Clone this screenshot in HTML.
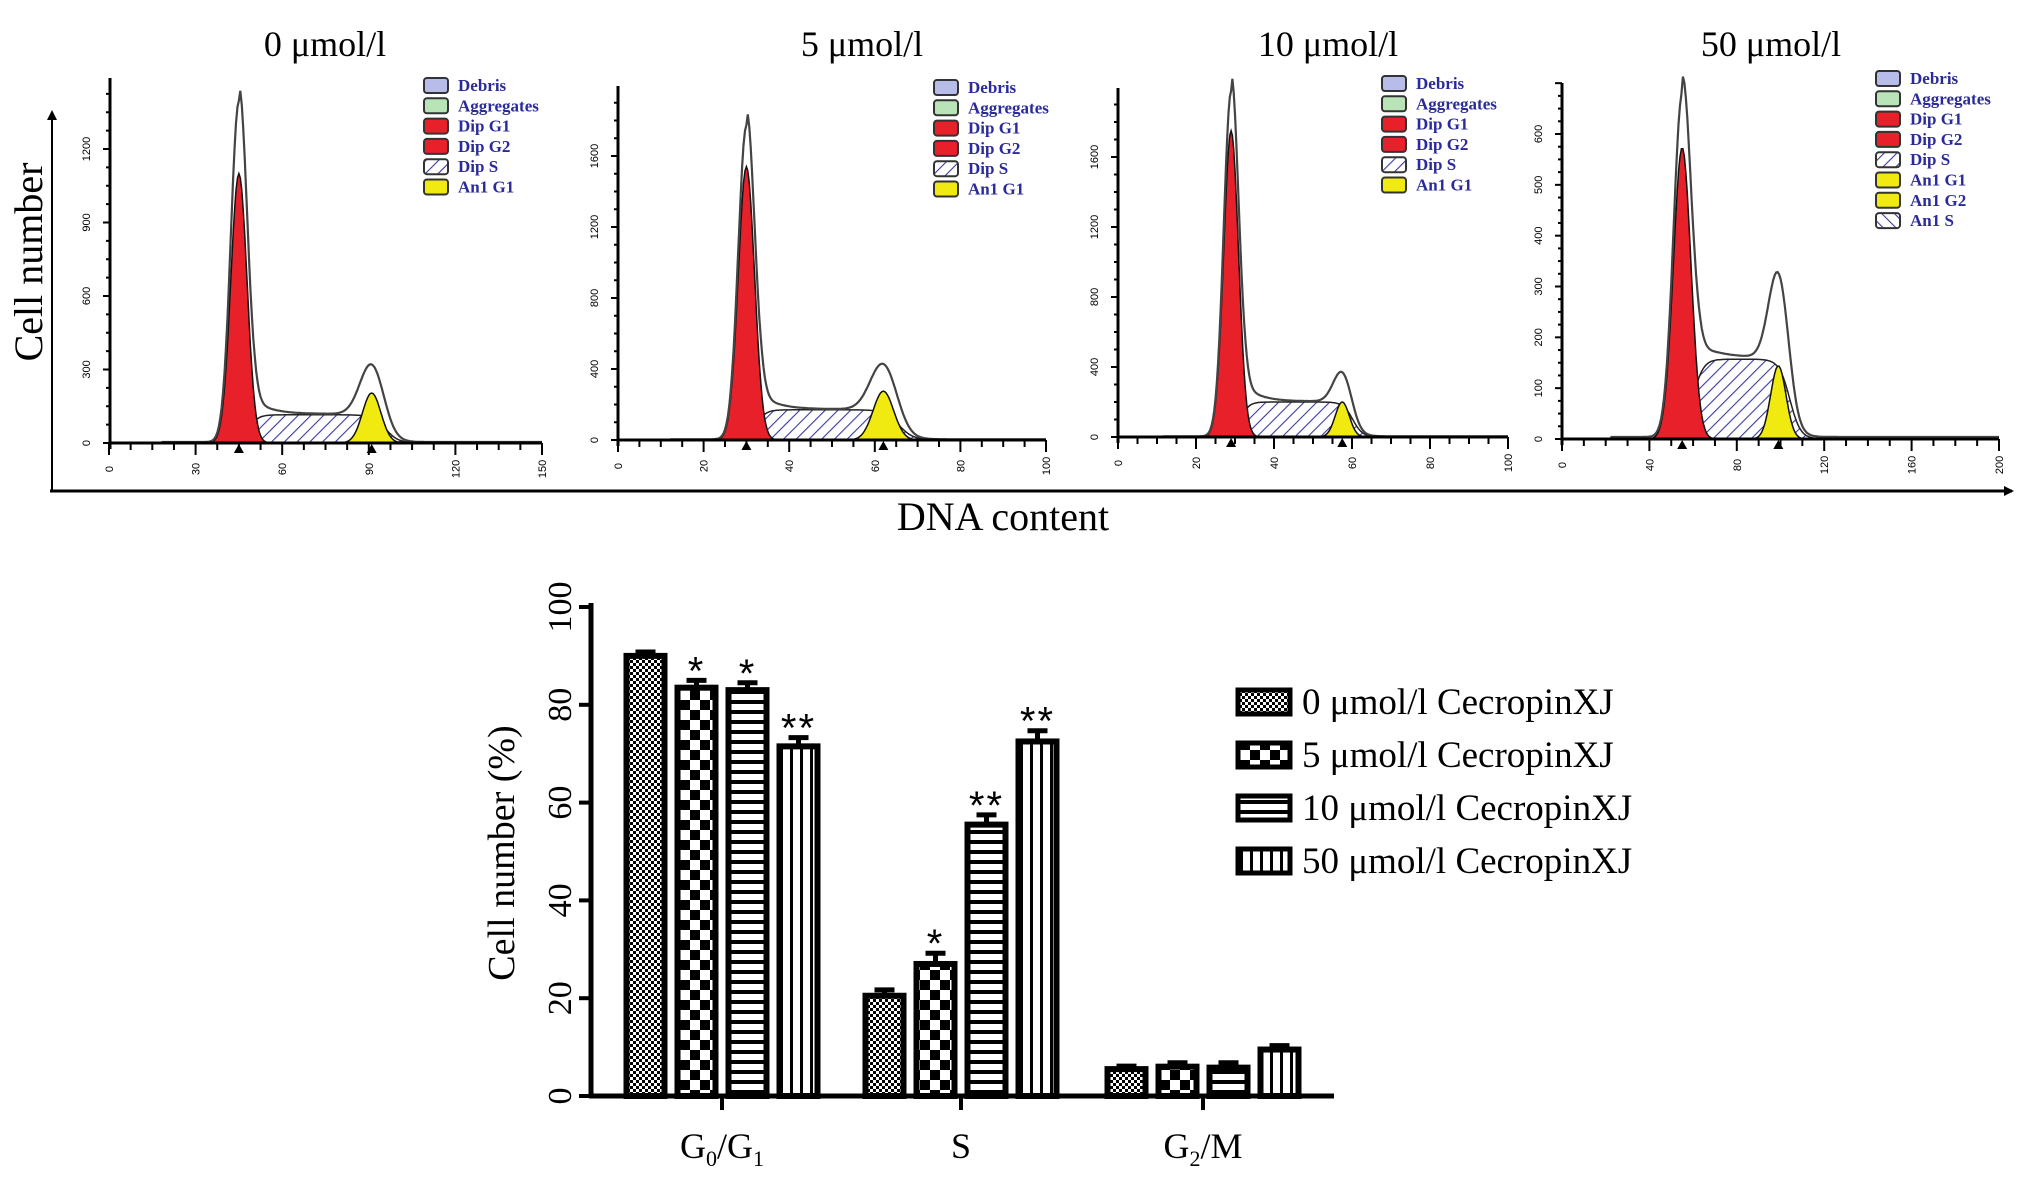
<!DOCTYPE html>
<html><head><meta charset="utf-8"><style>
html,body{margin:0;padding:0;background:#fff;}
svg{display:block;font-family:"Liberation Serif",serif;}
</style></head><body>
<svg id="fig" width="2031" height="1178" viewBox="0 0 2031 1178" xmlns="http://www.w3.org/2000/svg">
<defs>
<pattern id="hatchS" width="9" height="9" patternUnits="userSpaceOnUse" patternTransform="rotate(45)"><rect width="9" height="9" fill="#fff"/><line x1="0" y1="0" x2="0" y2="9" stroke="#3a3aa0" stroke-width="2.2"/></pattern>
<pattern id="hatchS2" width="9" height="9" patternUnits="userSpaceOnUse" patternTransform="rotate(-45)"><rect width="9" height="9" fill="#fff"/><line x1="0" y1="0" x2="0" y2="9" stroke="#3a3aa0" stroke-width="2.2"/></pattern>
<pattern id="p0" width="6" height="6" patternUnits="userSpaceOnUse"><rect width="6" height="6" fill="#fff"/><rect width="3" height="3" fill="#000"/><rect x="3" y="3" width="3" height="3" fill="#000"/></pattern>
<pattern id="p5" width="20" height="20" patternUnits="userSpaceOnUse"><rect width="20" height="20" fill="#fff"/><rect width="10" height="10" fill="#000"/><rect x="10" y="10" width="10" height="10" fill="#000"/></pattern>
<pattern id="p10" width="10" height="10" patternUnits="userSpaceOnUse"><rect width="10" height="10" fill="#fff"/><rect y="0" width="10" height="4" fill="#000"/></pattern>
<pattern id="p50" width="10" height="10" patternUnits="userSpaceOnUse"><rect width="10" height="10" fill="#fff"/><rect x="0" width="3" height="10" fill="#000"/></pattern>
<marker id="arr" markerWidth="10" markerHeight="10" refX="8" refY="5" orient="auto" markerUnits="userSpaceOnUse"><path d="M0,0 L10,5 L0,10 z" fill="#000"/></marker>
</defs>
<g id="top"></g>
<g id="bars"></g>
</svg>
<script>
// ---------- Histogram panel data ----------
const panelTitles = ["0 μmol/l", "5 μmol/l", "10 μmol/l", "50 μmol/l"];
const panelXMax = [150, 100, 100, 200];
const panelXStep = [30, 20, 20, 40];
const panelYStep = [300, 400, 400, 100];
const panelYTickMax = [1200, 1600, 1600, 600];
const g1Mean = [45, 30, 29, 55];
const g1Sd = [2.8, 1.9, 1.9, 4.0];
const g1Height = [1100, 1540, 1750, 573];
const g1Outline = [1380, 1750, 1950, 660];
const g2Mean = [91, 62, 57.5, 99];
const g2Sd = [3.2, 2.4, 1.8, 3.5];
const g2Height = [204, 275, 200, 144];
const g2Outline = [300, 400, 337, 300];
const sPlateau = [115, 170, 200, 157];
const legendSets = [
 ["Debris","Aggregates","Dip G1","Dip G2","Dip S","An1 G1"],
 ["Debris","Aggregates","Dip G1","Dip G2","Dip S","An1 G1"],
 ["Debris","Aggregates","Dip G1","Dip G2","Dip S","An1 G1"],
 ["Debris","Aggregates","Dip G1","Dip G2","Dip S","An1 G1","An1 G2","An1 S"]];

// ---------- Bar chart data ----------
const categories = ["G0/G1", "S", "G2/M"];
const seriesNames = ["0 μmol/l CecropinXJ","5 μmol/l CecropinXJ","10 μmol/l CecropinXJ","50 μmol/l CecropinXJ"];
const s0 = [90, 20.5, 5.5];
const s5 = [83.5, 27, 6];
const s10 = [83, 55.5, 5.8];
const s50 = [71.5, 72.5, 9.5];
const e0 = [0.8, 1.2, 0.6];
const e5 = [1.5, 2.2, 0.8];
const e10 = [1.5, 2.0, 1.0];
const e50 = [1.8, 2.2, 0.8];
const sig0 = ["", "", ""];
const sig5 = ["*", "*", ""];
const sig10 = ["*", "**", ""];
const sig50 = ["**", "**", ""];
const yTicks = [0, 20, 40, 60, 80, 100];

const NS = "http://www.w3.org/2000/svg";
function mk(tag, attrs, parent, text) {
  const el = document.createElementNS(NS, tag);
  for (const k in attrs) el.setAttribute(k, attrs[k]);
  if (text !== undefined) el.textContent = text;
  parent.appendChild(el);
  return el;
}
const topG = document.getElementById("top");

const geo = [
 {ax:110, x0:109, x1:542, base:443, top:78, tickY:149, tx:325, lx:424, ly:84},
 {ax:618, x0:618, x1:1046, base:440, top:86, tickY:156, tx:862, lx:934, ly:86},
 {ax:1118, x0:1118, x1:1508, base:437, top:88, tickY:157, tx:1328, lx:1382, ly:82},
 {ax:1562, x0:1562, x1:1999, base:439, top:83, tickY:134, tx:1771, lx:1876, ly:77}
];
const legColors = {"Debris":"#b8bce8","Aggregates":"#b8e4b8","Dip G1":"#e8202a","Dip G2":"#e8202a","Dip S":"hatch","An1 G1":"#f0ea10","An1 G2":"#f0ea10","An1 S":"hatch2"};

function gauss(x, m, s, h) { return h * Math.exp(-0.5 * ((x - m) / s) ** 2); }
function sigm(x, m, s) { return 1 / (1 + Math.exp(-(x - m) / s)); }

for (let p = 0; p < 4; p++) {
  const g = geo[p];
  const grp = mk("g", {}, topG);
  
  
  const xs = v => g.x0 + (v / panelXMax[p]) * (g.x1 - g.x0);
  const ys = v => g.base - v * (g.base - g.tickY) / panelYTickMax[p];

  const t = mk("text", {x:g.tx, y:56, "font-size":36, "text-anchor":"middle"}, grp, panelTitles[p]);
  
  

  const sFn = x => sPlateau[p] * sigm(x, g1Mean[p] + g1Sd[p]*1.2, g1Sd[p]*0.6) * (1 - sigm(x, g2Mean[p] + g2Sd[p]*1.5, g2Sd[p]*0.7));
  const N = 300;
  let dS = "M" + xs(0) + "," + g.base, dR = dS, dY = dS, dO = "";
  for (let i = 0; i <= N; i++) {
    const v = panelXMax[p] * i / N;
    const r = gauss(v, g1Mean[p], g1Sd[p], g1Height[p]);
    const s = sFn(v);
    const yy = gauss(v, g2Mean[p], g2Sd[p], g2Height[p]);
    const tail = (g1Outline[p] - g1Height[p]) * Math.exp(-0.5*((v - g1Mean[p])/g1Sd[p])**2) + 0.35*g1Height[p]*0.15*Math.exp(-Math.max(0,v-g1Mean[p]-2*g1Sd[p])/(g1Sd[p]*2)) * (v > g1Mean[p] ? 1 : 0);
    const o = r + s + tail + gauss(v, g2Mean[p], g2Sd[p]*1.25, g2Outline[p] - sPlateau[p]*0.75) + 4 * (v > g1Mean[p]*0.4 ? 1 : 0);
    dS += " L" + xs(v).toFixed(1) + "," + ys(s).toFixed(1);
    dR += " L" + xs(v).toFixed(1) + "," + ys(r).toFixed(1);
    dY += " L" + xs(v).toFixed(1) + "," + ys(yy).toFixed(1);
    dO += (i ? " L" : "M") + xs(v).toFixed(1) + "," + ys(o).toFixed(1);
  }
  const end = " L" + xs(panelXMax[p]) + "," + g.base + " Z";
  let el;
  el = mk("path", {d:dS + end, fill:"url(#hatchS)", stroke:"#222", "stroke-width":1.5}, grp);
   
  el = mk("path", {d:dR + end, fill:"#e8202a", stroke:"#111", "stroke-width":1.5}, grp);
   
  el = mk("path", {d:dY + end, fill:"#f0ea10", stroke:"#111", "stroke-width":1.5}, grp);
   
  el = mk("path", {d:dO, fill:"none", stroke:"#444", "stroke-width":2.2}, grp);
   

  el = mk("line", {x1:g.ax, y1:g.top, x2:g.ax, y2:g.base+6, stroke:"#000", "stroke-width":3}, grp);
   
  el = mk("line", {x1:g.ax, y1:g.base, x2:g.x1, y2:g.base, stroke:"#000", "stroke-width":3}, grp);
   
  const yMinor = panelYStep[p] / 4;
  for (let v = 0; ys(v) > g.top; v += yMinor) {
    const major = Math.abs(v % panelYStep[p]) < 1e-6;
    mk("line", {x1:g.ax - (major?7:4), y1:ys(v), x2:g.ax, y2:ys(v), stroke:"#000", "stroke-width":2}, grp);
    if (major && v <= panelYTickMax[p]) {
      const yl = mk("text", {x:0, y:0, "font-size":11, "font-family":"Liberation Sans, sans-serif", "text-anchor":"middle", transform:`translate(${g.ax-20},${ys(v)}) rotate(-90)`}, grp, String(v));
       
    }
  }
  const xMinor = panelXStep[p] / 4;
  for (let v = 0; v <= panelXMax[p] + 1e-6; v += xMinor) {
    const major = Math.abs(v % panelXStep[p]) < 1e-6;
    mk("line", {x1:xs(v), y1:g.base, x2:xs(v), y2:g.base + (major?12:7), stroke:"#000", "stroke-width":2}, grp);
    if (major) {
      const xl = mk("text", {x:0, y:0, "font-size":11, "font-family":"Liberation Sans, sans-serif", "text-anchor":"middle", transform:`translate(${xs(v)+4},${g.base+26}) rotate(-90)`}, grp, String(v));
       
    }
  }
  [g1Mean[p], g2Mean[p]].forEach(m => {
    const tri = mk("path", {d:`M${xs(m)-5},${g.base+10} L${xs(m)+5},${g.base+10} L${xs(m)},${g.base+1} Z`, fill:"#000"}, grp);
     
  });
  legendSets[p].forEach((lab, i) => {
    const y = g.ly + i * 20.3;
    const c = legColors[lab];
    const fill = c === "hatch" ? "url(#hatchS)" : c === "hatch2" ? "url(#hatchS2)" : c;
    const sw = mk("rect", {x:g.lx, y:y-6, width:24, height:15, rx:3, fill:fill, stroke:"#333", "stroke-width":2}, grp);
     
    const tx = mk("text", {x:g.lx+34, y:y+7, "font-size":17, "font-weight":"bold", fill:"#2a2a9a"}, grp, lab);
     
  });
}
let ax1 = mk("line", {x1:52, y1:490, x2:52, y2:112, stroke:"#000", "stroke-width":2, "marker-end":"url(#arr)"}, topG);
 
ax1 = mk("line", {x1:50, y1:491, x2:2012, y2:491, stroke:"#000", "stroke-width":3, "marker-end":"url(#arr)"}, topG);
 
ax1 = mk("text", {x:0, y:0, "font-size":40, "text-anchor":"middle", transform:"translate(42,262) rotate(-90)"}, topG, "Cell number");
 
ax1 = mk("text", {x:1003, y:530, "font-size":40, "text-anchor":"middle"}, topG, "DNA content");
 

// ---------- Bar chart ----------
const barsG = document.getElementById("bars");
const Y0 = 1096, Y100 = 607, AX = 591, AXEND = 1334;
const yScale = v => Y0 - (v / 100) * (Y0 - Y100);
const groupCenters = [722, 961, 1203];
const barW = 38, barGap = 51;
const series = [s0, s5, s10, s50];
const errs = [e0, e5, e10, e50];
const sigs = [sig0, sig5, sig10, sig50];
const pats = ["url(#p0)", "url(#p5)", "url(#p10)", "url(#p50)"];

for (let c = 0; c < categories.length; c++) {
  for (let s = 0; s < 4; s++) {
    const cx = groupCenters[c] + (s - 1.5) * barGap;
    const v = series[s][c], er = errs[s][c];
    const yT = yScale(v);
    const eb = mk("line", {x1:cx, y1:yScale(v+er), x2:cx, y2:yT, stroke:"#000", "stroke-width":5}, barsG);
     
    const cap = mk("line", {x1:cx-10, y1:yScale(v+er), x2:cx+10, y2:yScale(v+er), stroke:"#000", "stroke-width":5}, barsG);
     
    const r = mk("rect", {x:cx-barW/2, y:yT, width:barW, height:Y0-yT, fill:pats[s], stroke:"#000", "stroke-width":6}, barsG);
    
    
    if (sigs[s][c]) {
      const st = mk("text", {x:cx, y:yScale(v+er)+4, "font-size":40, "font-family":"Liberation Sans, sans-serif", "text-anchor":"middle", "letter-spacing":"2"}, barsG, sigs[s][c]);
       
    }
  }
  const tk = mk("line", {x1:groupCenters[c], y1:Y0, x2:groupCenters[c], y2:Y0+14, stroke:"#000", "stroke-width":4}, barsG);
   
}
let b1 = mk("line", {x1:AX, y1:Y100-4, x2:AX, y2:Y0+2, stroke:"#000", "stroke-width":5}, barsG);
 
b1 = mk("line", {x1:AX-2, y1:Y0, x2:AXEND, y2:Y0, stroke:"#000", "stroke-width":5}, barsG);
 
yTicks.forEach(v => {
  mk("line", {x1:AX-12, y1:yScale(v), x2:AX, y2:yScale(v), stroke:"#000", "stroke-width":4}, barsG);
  const l = mk("text", {x:0, y:0, "font-size":34, "text-anchor":"middle", transform:`translate(${AX-20},${yScale(v)}) rotate(-90)`}, barsG, String(v));
   
});
b1 = mk("text", {x:0, y:0, "font-size":38, "text-anchor":"middle", transform:"translate(514,853) rotate(-90)"}, barsG, "Cell number (%)");
 
const catLbl = [["G","0","/G","1"],["S"],["G","2","/M"]];
catLbl.forEach((parts, c) => {
  const t = mk("text", {x:groupCenters[c], y:1158, "font-size":36, "text-anchor":"middle"}, barsG);
   
  parts.forEach((pt, i) => {
    const sub = (i % 2 === 1);
    mk("tspan", sub ? {"font-size":22, dy:8} : (i>0 ? {dy:-8} : {}), t, pt);
  });
});
seriesNames.forEach((n, i) => {
  const y = 702 + i * 53;
  const sw = mk("rect", {x:1238, y:y-12, width:52, height:24, fill:pats[i], stroke:"#000", "stroke-width":5}, barsG);
   
  const tx = mk("text", {x:1302, y:y+12, "font-size":37}, barsG, n);
   
});
</script>
</body></html>
